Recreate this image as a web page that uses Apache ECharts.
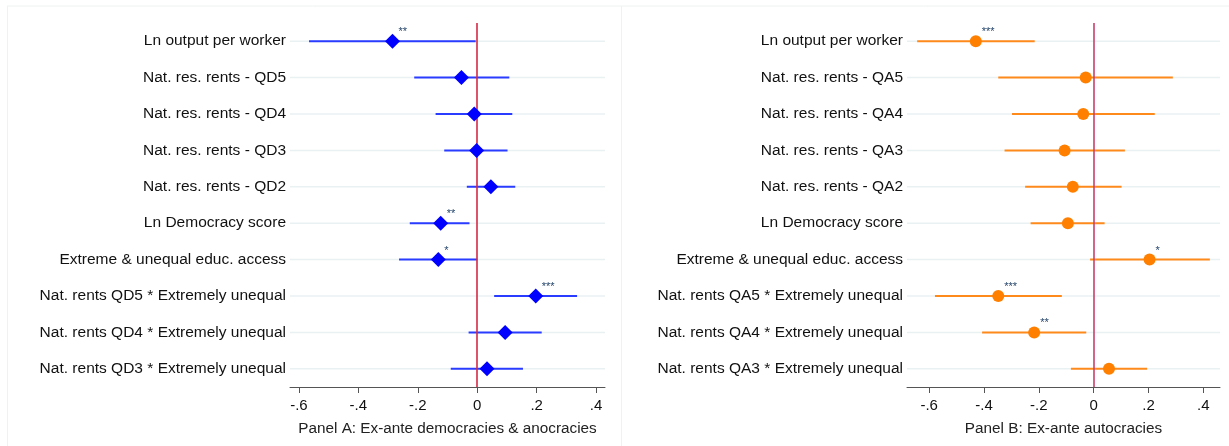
<!DOCTYPE html>
<html><head><meta charset="utf-8">
<script src="https://cdn.jsdelivr.net/npm/echarts@6/dist/echarts.min.js"></script>
<style>html,body{margin:0;padding:0;background:#fff}#c{width:1229px;height:446px}</style>
</head><body><div id="c"></div>
<script>
const categoriesA = ["Ln output per worker","Nat. res. rents - QD5","Nat. res. rents - QD4","Nat. res. rents - QD3","Nat. res. rents - QD2","Ln Democracy score","Extreme & unequal educ. access","Nat. rents QD5 * Extremely unequal","Nat. rents QD4 * Extremely unequal","Nat. rents QD3 * Extremely unequal"];
const estA = [-0.285,-0.053,-0.010,-0.002,0.046,-0.123,-0.131,0.197,0.094,0.033];
const loA  = [-0.566,-0.212,-0.140,-0.111,-0.035,-0.227,-0.263,0.057,-0.029,-0.089];
const hiA  = [-0.005,0.108,0.118,0.102,0.128,-0.026,0.000,0.336,0.217,0.154];
const starsA = ["**","","","","","**","*","***","",""];

const categoriesB = ["Ln output per worker","Nat. res. rents - QA5","Nat. res. rents - QA4","Nat. res. rents - QA3","Nat. res. rents - QA2","Ln Democracy score","Extreme & unequal educ. access","Nat. rents QA5 * Extremely unequal","Nat. rents QA4 * Extremely unequal","Nat. rents QA3 * Extremely unequal"];
const estB = [-0.430,-0.029,-0.038,-0.106,-0.076,-0.094,0.204,-0.348,-0.217,0.056];
const loB  = [-0.644,-0.348,-0.298,-0.325,-0.250,-0.230,-0.013,-0.579,-0.407,-0.083];
const hiB  = [-0.215,0.289,0.223,0.114,0.102,0.040,0.424,-0.116,-0.027,0.195];
const starsB = ["***","","","","","","*","***","**",""];

const tickValues = [-0.6,-0.4,-0.2,0,0.2,0.4];
const panelTitles = ["Panel A: Ex-ante democracies & anocracies","Panel B: Ex-ante autocracies"];

const FONT = "Liberation Sans, Arial, Helvetica, sans-serif";
function fmt(v){ if (Math.abs(v) < 1e-9) return "0"; let s = (Math.round(v*10)/10).toString(); return s.replace("0.", "."); }

function makeX(idx, min, max){
  return {
    type:'value', gridIndex: idx, min: min, max: max, name: panelTitles[idx],
    nameLocation:'middle', nameGap: 34, nameTextStyle:{fontFamily:FONT,fontSize:15.3,color:'#222'},
    axisLine:{show:true,lineStyle:{color:'#555',width:1}},
    axisTick:{show:true,length:6,customValues:tickValues,lineStyle:{color:'#555'}},
    axisLabel:{show:true,customValues:tickValues,formatter:fmt,margin:11,fontFamily:FONT,fontSize:15,color:'#111'},
    splitLine:{show:false}
  };
}
function makeY(idx, cats){
  return {
    type:'category', gridIndex: idx, data: cats, inverse:true,
    axisLine:{show:false}, axisTick:{show:false}, splitLine:{show:false},
    axisLabel:{margin:4,fontFamily:FONT,fontSize:15.5,color:'#111'}
  };
}
function ciSeries(idx, cats, est, lo, hi, stars, lineColor, refColor){
  const data = cats.map((c,i)=>[est[i], i, lo[i], hi[i]]);
  return {
    type:'custom', xAxisIndex: idx, yAxisIndex: idx, z: 2,
    data: data,
    renderItem: function(params, api){
      const i = api.value(1);
      const pLo = api.coord([api.value(2), i]);
      const pHi = api.coord([api.value(3), i]);
      const pE = api.coord([api.value(0), i]);
      const cs = params.coordSys;
      const star = stars[params.dataIndex];
      const children = [
        {type:'line', shape:{x1:cs.x,y1:pE[1],x2:cs.x+cs.width,y2:pE[1]}, style:{stroke:'#eaf1f3',lineWidth:1.5}, z2:0},
        {type:'line', shape:{x1:pLo[0],y1:pLo[1],x2:pHi[0],y2:pHi[1]}, style:{stroke:lineColor,lineWidth:2}, z2:1}
      ];
      if (star) children.push({type:'text', x:pE[0]+6, y:pE[1]-9, style:{text:star, fill:'#26466d', font:'11px '+FONT, align:'left', verticalAlign:'middle'}, z2:3});
      return {type:'group', children};
    },
    markLine:{symbol:'none', silent:true, label:{show:false}, z: 3,
      lineStyle:{color:refColor,width:1.6,type:'solid'}, data:[{xAxis:0}]}
  };
}
function markSeries(idx, cats, est, symbol, size, color){
  return {
    type:'scatter', xAxisIndex: idx, yAxisIndex: idx, z: 5,
    symbol: symbol, symbolSize: size, itemStyle:{color:color, opacity:1},
    data: cats.map((c,i)=>[est[i], i])
  };
}

const chart = echarts.init(document.getElementById('c'), null, {renderer:'canvas'});
chart.setOption({
  animation:false,
  backgroundColor:'#ffffff',
  graphic:[
    {type:'line', shape:{x1:7,y1:6,x2:1229,y2:6}, style:{stroke:'#eef2f2',lineWidth:1}},
    {type:'line', shape:{x1:7.5,y1:6,x2:7.5,y2:446}, style:{stroke:'#eef2f2',lineWidth:1}},
    {type:'line', shape:{x1:621.5,y1:6,x2:621.5,y2:446}, style:{stroke:'#eef2f2',lineWidth:1}}
  ],
  grid:[
    {left:290, top:23, width:315, height:364},
    {left:907, top:23, width:313, height:364}
  ],
  xAxis:[ makeX(0,-0.63,0.43), makeX(1,-0.681,0.461) ],
  yAxis:[ makeY(0,categoriesA), makeY(1,categoriesB) ],
  series:[
    ciSeries(0, categoriesA, estA, loA, hiA, starsA, '#2a3cff', '#d42a44'),
    markSeries(0, categoriesA, estA, 'diamond', 15, '#0000ff'),
    ciSeries(1, categoriesB, estB, loB, hiB, starsB, '#ff8a1c', '#c9406a'),
    markSeries(1, categoriesB, estB, 'circle', 12, '#ff8000')
  ]
});
</script></body></html>
